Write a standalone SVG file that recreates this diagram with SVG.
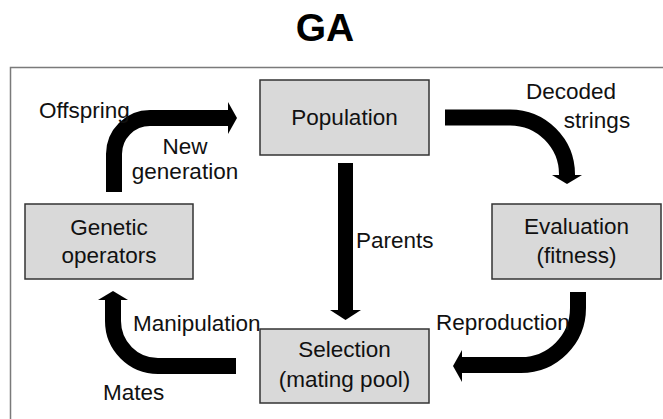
<svg xmlns="http://www.w3.org/2000/svg" width="663" height="419" viewBox="0 0 663 419">
  <style>
    .frame { fill: #ffffff; stroke: #7a7a7a; stroke-width: 1.5; }
    .box { fill: #d9d9d9; stroke: #333333; stroke-width: 1.5; }
    .t { font-family: "Liberation Sans", Arial, sans-serif; font-size: 22.5px; fill: #111111; }
    .mid { text-anchor: middle; }
    .title { font-family: "Liberation Sans", Arial, sans-serif; font-size: 39px; font-weight: bold; fill: #000000; text-anchor: middle; }
    .shaft { fill: none; stroke: #000000; stroke-width: 16; }
    .head { fill: #000000; }
  </style>

  <rect width="663" height="419" fill="#ffffff"/>
  <text class="title" x="325" y="41">GA</text>
  <rect class="frame" x="10.5" y="67.5" width="660" height="360"/>

  <g id="connectors">
    <!-- Genetic operators -> Population -->
    <path class="shaft" d="M114,192 V154 A36,36 0 0 1 150,118 H229"/>
    <polygon class="head" points="228,102 237,118 228,134"/>
    <!-- Population -> Evaluation -->
    <path class="shaft" d="M445,117.5 H510 A57,57 0 0 1 567,174.5 V176"/>
    <polygon class="head" points="552,175 582,175 567,184"/>
    <!-- Population -> Selection -->
    <path class="shaft" d="M345.5,163 V311" style="stroke-width:15"/>
    <polygon class="head" points="330,310 361,310 345.5,320"/>
    <!-- Evaluation -> Selection -->
    <path class="shaft" d="M578,292 V308 A57,57 0 0 1 521,365 H461"/>
    <polygon class="head" points="462,350 462,382 453,366"/>
    <!-- Selection -> Genetic operators -->
    <path class="shaft" d="M236,366 H158 A45,45 0 0 1 113,321 V299"/>
    <polygon class="head" points="98,300 128,300 113,291"/>
  </g>

  <g id="labels">
    <text class="t" x="39" y="118">Offspring</text>
    <text class="t mid" x="185" y="154">New</text>
    <text class="t mid" x="185" y="179">generation</text>
    <text class="t mid" x="571" y="99">Decoded</text>
    <text class="t mid" x="597" y="128">strings</text>
    <text class="t" x="356" y="248">Parents</text>
    <text class="t" x="436" y="330">Reproduction</text>
    <text class="t" x="133" y="331">Manipulation</text>
    <text class="t" x="103" y="400">Mates</text>
  </g>

  <g id="population">
    <rect class="box" x="260" y="80" width="169" height="75"/>
    <text class="t mid" x="344.5" y="125">Population</text>
  </g>

  <g id="genetic-operators">
    <rect class="box" x="25" y="204" width="168" height="75"/>
    <text class="t mid" x="109" y="235">Genetic</text>
    <text class="t mid" x="109" y="263">operators</text>
  </g>

  <g id="evaluation">
    <rect class="box" x="492" y="204" width="169" height="75"/>
    <text class="t mid" x="576.5" y="234">Evaluation</text>
    <text class="t mid" x="576.5" y="263">(fitness)</text>
  </g>

  <g id="selection">
    <rect class="box" x="260" y="329" width="169" height="74"/>
    <text class="t mid" x="344.5" y="357">Selection</text>
    <text class="t mid" x="344.5" y="387">(mating pool)</text>
  </g>
</svg>
